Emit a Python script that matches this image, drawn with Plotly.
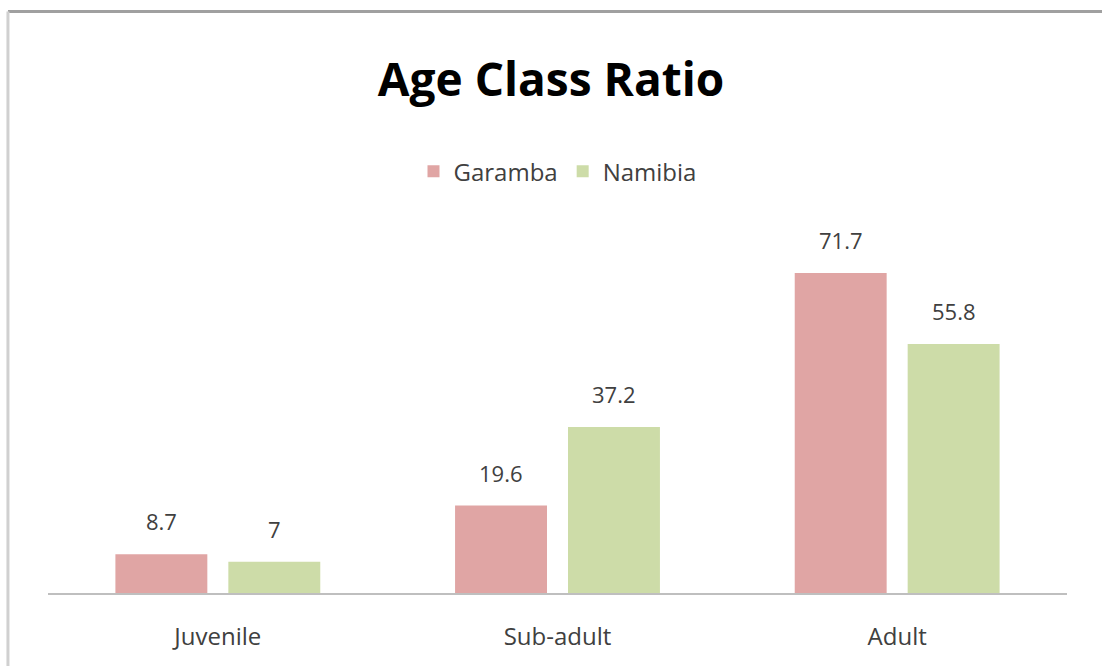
import plotly.graph_objects as go

categories = ["Juvenile", "Sub-adult", "Adult"]
garamba = [8.7, 19.6, 71.7]
namibia = [7, 37.2, 55.8]

series = [
    ("Garamba", garamba, "#E0A5A4", -56.5),
    ("Namibia", namibia, "#CDDCA8", 56.5),
]

fig = go.Figure()

for name, vals, color, shift in series:
    fig.add_trace(go.Bar(
        x=categories, y=vals, name=name,
        marker=dict(color=color, line=dict(width=0)),
    ))
    # étiquettes de valeur au-dessus des barres
    for cat, v in zip(categories, vals):
        fig.add_annotation(
            x=cat, y=v, text=f"{v:g}", showarrow=False,
            xshift=shift, yshift=16, yanchor="bottom",
            font=dict(size=22, color="#404040"),
        )

# cadre gris (haut + gauche)
fig.add_shape(type="line", xref="paper", yref="paper",
              x0=-0.0393, x1=1.04, y0=1.629, y1=1.629,
              line=dict(color="#A0A0A0", width=3))
fig.add_shape(type="line", xref="paper", yref="paper",
              x0=-0.0393, x1=-0.0393, y0=1.629, y1=-0.21,
              line=dict(color="#D0D0D0", width=3))

fig.update_layout(
    width=1102, height=666,
    margin=dict(l=48, r=35, t=236, b=73),
    paper_bgcolor="white", plot_bgcolor="white",
    font=dict(family="Open Sans", color="#404040"),
    title=dict(text="<b>Age Class Ratio</b>", x=0.5, xanchor="center",
               y=1 - 80 / 666, yanchor="middle", yref="container",
               font=dict(size=46, color="black", family="Open Sans")),
    barmode="group", bargap=0.335, bargroupgap=0.186,
    legend=dict(orientation="h", x=0.5, xanchor="center", y=1.18, yanchor="middle",
                font=dict(size=24, color="#404040"), itemwidth=30,
                traceorder="normal"),
    xaxis=dict(showline=True, linecolor="#BFBFBF", linewidth=2, ticks="",
               tickfont=dict(size=24, color="#404040"), showgrid=False,
               ticklabelstandoff=21),
    yaxis=dict(range=[0, 80], visible=False, showgrid=False, zeroline=False),
)

fig.write_html("out.html", config={"displayModeBar": False},
               post_script="document.body.style.margin='0';")
